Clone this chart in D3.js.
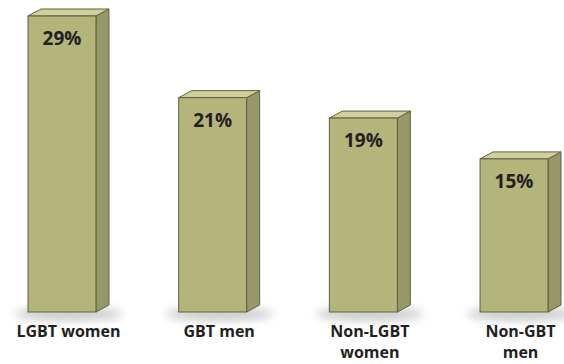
<!DOCTYPE html>
<html lang="en">
<head>
<meta charset="UTF-8">
<title>3D bars</title>
<style>
  html, body { margin: 0; padding: 0; background: #fff; }
  svg { display: block; }
</style>
</head>
<body>
<svg id="svg" width="564" height="364"></svg>
<script src="https://d3js.org/d3.v7.min.js"></script>
<script>
  const categories = ['LGBT women', 'GBT men', 'Non-LGBT women', 'Non-GBT men']
  const labelLines = [['LGBT women'], ['GBT men'], ['Non-LGBT', 'women'], ['Non-GBT', 'men']]
  const values = [29, 21, 19, 15]

  const dx = 13, dy = 7   // depth of the fake 3d
  const base = 312

  const svg = d3.select('#svg')

  const x = d3.scaleBand()
    .domain(categories)
    .range([28, 548])
    .paddingInner(0.549)
    .paddingOuter(0)

  const y = d3.scaleLinear()
    .domain([0, 29])
    .range([base, 16])

  const bw = x.bandwidth()

  const defs = svg.append('defs')
  defs.append('filter').attr('id', 'blur')
    .attr('x', '-50%').attr('y', '-200%').attr('width', '200%').attr('height', '500%')
    .append('feGaussianBlur').attr('stdDeviation', 5)

  // shadows on the floor
  svg.append('g').selectAll('ellipse')
    .data(categories)
    .join('ellipse')
    .attr('cx', d => x(d) + (bw + dx) / 2)
    .attr('cy', base + 2)
    .attr('rx', 54)
    .attr('ry', 7)
    .attr('fill', '#000')
    .attr('opacity', 0.2)
    .attr('filter', 'url(#blur)')

  const bars = svg.append('g').selectAll('g')
    .data(categories)
    .join('g')

  const stroke = '#5e6140'

  // side
  bars.append('path')
    .attr('d', (d, i) => {
      const x1 = x(d) + bw, t = y(values[i])
      return `M${x1},${t} L${x1 + dx},${t - dy} L${x1 + dx},${base - dy} L${x1},${base} Z`
    })
    .attr('fill', '#979868')
    .attr('stroke', stroke)
    .attr('stroke-width', 1)
    .attr('stroke-linejoin', 'round')

  // top
  bars.append('path')
    .attr('d', (d, i) => {
      const x0 = x(d), t = y(values[i])
      return `M${x0},${t} L${x0 + dx},${t - dy} L${x0 + bw + dx},${t - dy} L${x0 + bw},${t} Z`
    })
    .attr('fill', '#cfd09c')
    .attr('stroke', stroke)
    .attr('stroke-width', 1)
    .attr('stroke-linejoin', 'round')

  // front
  bars.append('rect')
    .attr('x', d => x(d))
    .attr('y', (d, i) => y(values[i]))
    .attr('width', bw)
    .attr('height', (d, i) => base - y(values[i]))
    .attr('fill', '#b3b57b')
    .attr('stroke', stroke)
    .attr('stroke-width', 1)

  bars.append('text')
    .attr('x', d => x(d) + bw / 2)
    .attr('y', (d, i) => y(values[i]) + 29)
    .attr('text-anchor', 'middle')
    .style('font-family', 'Open Sans')
    .style('font-weight', 'bold')
    .style('font-size', '19px')
    .attr('fill', '#231f20')
    .text((d, i) => values[i] + '%')

  // category labels
  const labels = svg.append('g').selectAll('text')
    .data(categories)
    .join('text')
    .attr('x', d => x(d) + (bw + dx) / 2)
    .attr('y', 337)
    .attr('text-anchor', 'middle')
    .style('font-family', 'Open Sans')
    .style('font-weight', 'bold')
    .style('font-size', '16px')
    .attr('fill', '#231f20')

  labels.selectAll('tspan')
    .data((d, i) => labelLines[i])
    .join('tspan')
    .attr('x', function () { return d3.select(this.parentNode).attr('x') })
    .attr('dy', (d, i) => i === 0 ? 0 : 21)
    .text(d => d)
</script>
</body>
</html>
